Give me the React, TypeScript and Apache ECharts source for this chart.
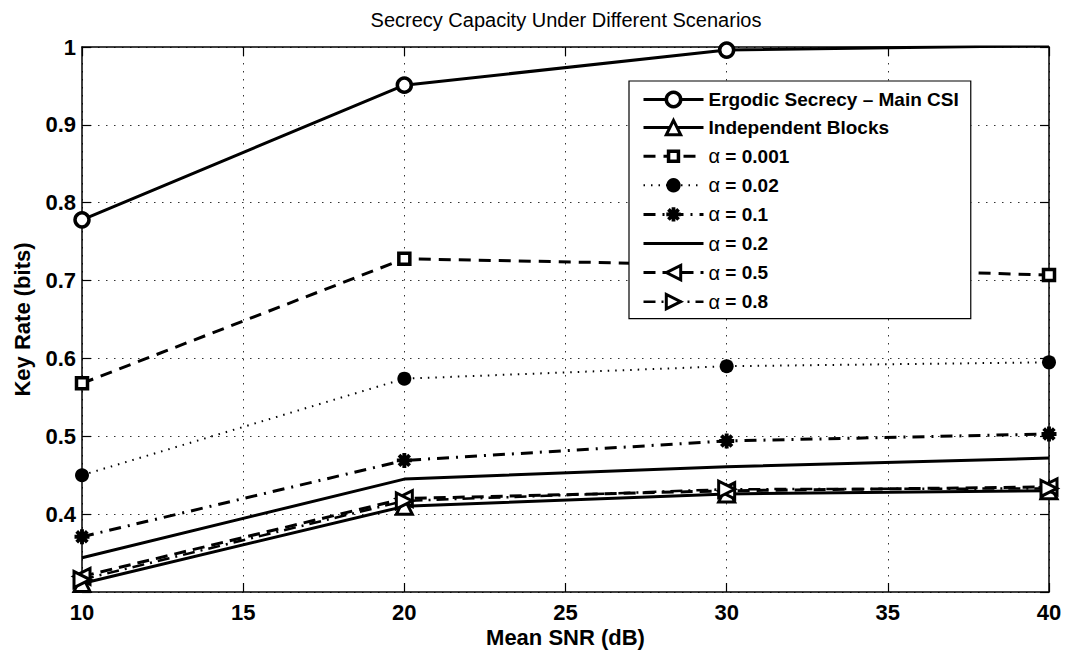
import React, { useEffect, useRef } from "react";
import * as echarts from "echarts";

const snr = [10, 20, 30, 40];
const ergodic = [0.778, 0.951, 0.996, 1.002];
const independent = [0.311, 0.41, 0.426, 0.43];
const alpha0001 = [0.568, 0.728, 0.72, 0.707];
const alpha002 = [0.45, 0.574, 0.59, 0.595];
const alpha01 = [0.371, 0.469, 0.494, 0.503];
const alpha02 = [0.344, 0.445, 0.461, 0.472];
const alpha05 = [0.32, 0.42, 0.43, 0.435];
const alpha08 = [0.316, 0.417, 0.432, 0.433];

const seriesNames = [
  "Ergodic Secrecy \u2013 Main CSI",
  "Independent Blocks",
  "\u03b1 = 0.001",
  "\u03b1 = 0.02",
  "\u03b1 = 0.1",
  "\u03b1 = 0.2",
  "\u03b1 = 0.5",
  "\u03b1 = 0.8",
];

const titleText = "Secrecy Capacity Under Different Scenarios";
const xName = "Mean SNR (dB)";
const yName = "Key Rate (bits)";

const FONT = "'Liberation Sans', Arial, Helvetica, sans-serif";
const ASTERISK =
  "path://M-1.3,-5L1.3,-5L1.3,5L-1.3,5Z M-5,-1.3L5,-1.3L5,1.3L-5,1.3Z M2.62,-4.45L4.45,-2.62L-2.62,4.45L-4.45,2.62Z M-4.45,-2.62L-2.62,-4.45L4.45,2.62L2.62,4.45Z";
const SQUARE = "path://M-8,-8M8,8M-5.5,-5.5L5.5,-5.5L5.5,5.5L-5.5,5.5Z";

function pairs(vals: number[]) {
  return snr.map((x, i) => [x, vals[i]]);
}

export default function App() {
  const ref = useRef<HTMLDivElement>(null);
  useEffect(() => {
    const chart = echarts.init(ref.current!, null, { renderer: "svg" });
    const openItem = { color: "#fff", borderColor: "#000", borderWidth: 3 };
    const base = { type: "line", clip: true, z: 2, zlevel: 0 };
    const option: any = {
      animation: false,
      backgroundColor: "#fff",
      textStyle: { fontFamily: FONT, color: "#000" },
      title: {
        text: titleText,
        left: 566,
        textAlign: "center",
        top: 10,
        padding: 0,
        textStyle: { fontSize: 20, fontWeight: "normal", color: "#000", fontFamily: FONT },
      },
      grid: { left: 82, right: 16, top: 47, bottom: 61, outerBoundsMode: "none", containLabel: false },
      legend: {
        orient: "vertical",
        left: 629,
        top: 81,
        z: 50,
        zlevel: 1,
        backgroundColor: "#fff",
        borderColor: "#000",
        borderWidth: 1.2,
        padding: [9, 12, 7, 13],
        itemWidth: 60,
        itemHeight: 18,
        itemGap: 9.1,
        lineStyle: { width: "inherit" },
        itemStyle: { borderWidth: "inherit" },
        data: seriesNames,
        formatter: (name: string) =>
          name.startsWith("\u03b1") ? `{a|\u03b1}{b|${name.slice(1)}}` : `{b|${name}}`,
        textStyle: {
          fontFamily: FONT,
          color: "#000",
          rich: {
            a: { fontSize: 20, fontWeight: "normal", fontFamily: FONT, color: "#000", lineHeight: 19 },
            b: { fontSize: 19, fontWeight: "bold", fontFamily: FONT, color: "#000", lineHeight: 19 },
          },
        },
      },
      xAxis: [
        {
          type: "value",
          min: 10,
          max: 40,
          interval: 5,
          position: "bottom",
          name: xName,
          nameLocation: "middle",
          nameGap: 34,
          nameMoveOverlap: false,
          nameTextStyle: { fontSize: 22, fontWeight: "bold", color: "#000", fontFamily: FONT },
          axisLine: { lineStyle: { color: "#000", width: 1.5 } },
          axisTick: { inside: true, length: 9, lineStyle: { color: "#000", width: 1.2 } },
          axisLabel: { fontSize: 22, fontWeight: "bold", color: "#000", margin: 9, fontFamily: FONT },
          splitLine: { show: true, lineStyle: { color: "#333", width: 1, type: [1.5, 6.5] } },
        },
        {
          type: "value",
          min: 10,
          max: 40,
          interval: 5,
          position: "top",
          axisLine: { lineStyle: { color: "#000", width: 1.5 } },
          axisTick: { inside: true, length: 9, lineStyle: { color: "#000", width: 1.2 } },
          axisLabel: { show: false },
          splitLine: { show: false },
        },
      ],
      yAxis: [
        {
          type: "value",
          min: 0.3,
          max: 1,
          interval: 0.1,
          position: "left",
          name: yName,
          nameLocation: "middle",
          nameGap: 49,
          nameMoveOverlap: false,
          nameTextStyle: { fontSize: 22, fontWeight: "bold", color: "#000", fontFamily: FONT },
          axisLine: { lineStyle: { color: "#000", width: 1.5 } },
          axisTick: { inside: true, length: 9, lineStyle: { color: "#000", width: 1.2 } },
          axisLabel: {
            fontSize: 22,
            fontWeight: "bold",
            color: "#000",
            margin: 6,
            fontFamily: FONT,
            formatter: (v: number) => (Math.abs(v - 0.3) < 1e-6 ? "" : String(+v.toFixed(1))),
          },
          splitLine: { show: true, lineStyle: { color: "#333", width: 1, type: [1.5, 6.5] } },
        },
        {
          type: "value",
          min: 0.3,
          max: 1,
          interval: 0.1,
          position: "right",
          axisLine: { show: true, lineStyle: { color: "#000", width: 1.5 } },
          axisTick: { show: true, inside: true, length: 9, lineStyle: { color: "#000", width: 1.2 } },
          axisLabel: { show: false },
          splitLine: { show: false },
        },
      ],
      series: [
        {
          ...base,
          name: seriesNames[0],
          data: pairs(ergodic),
          symbol: "circle",
          symbolSize: 14,
          lineStyle: { color: "#000", width: 3 },
          itemStyle: { ...openItem, borderWidth: 3.5 },
        },
        {
          ...base,
          name: seriesNames[1],
          data: pairs(independent),
          symbol: "triangle",
          symbolSize: 16,
          lineStyle: { color: "#000", width: 3 },
          itemStyle: { ...openItem },
        },
        {
          ...base,
          name: seriesNames[2],
          data: pairs(alpha0001),
          symbol: SQUARE,
          symbolSize: 16,
          lineStyle: { color: "#000", width: 3, type: [12, 8] },
          itemStyle: { ...openItem, borderWidth: 3.5 },
        },
        {
          ...base,
          name: seriesNames[3],
          data: pairs(alpha002),
          symbol: "circle",
          symbolSize: 14,
          lineStyle: { color: "#000", width: 2, type: [1.5, 6] },
          itemStyle: { color: "#000", borderWidth: 0 },
        },
        {
          ...base,
          name: seriesNames[4],
          data: pairs(alpha01),
          symbol: ASTERISK,
          symbolSize: 15,
          lineStyle: { color: "#000", width: 3, type: [12, 7, 2, 7] },
          itemStyle: { color: "#000", borderWidth: 0 },
        },
        {
          ...base,
          name: seriesNames[5],
          data: pairs(alpha02),
          symbol: "circle",
          showSymbol: false,
          lineStyle: { color: "#000", width: 3 },
          itemStyle: { color: "rgba(0,0,0,0)", borderWidth: 0 },
        },
        {
          ...base,
          name: seriesNames[6],
          data: pairs(alpha05),
          symbol: "triangle",
          symbolRotate: 90,
          symbolSize: 16,
          lineStyle: { color: "#000", width: 3, type: [12, 7] },
          itemStyle: { ...openItem },
        },
        {
          ...base,
          name: seriesNames[7],
          data: pairs(alpha08),
          symbol: "triangle",
          symbolRotate: -90,
          symbolSize: 16,
          lineStyle: { color: "#000", width: 2.5, type: [12, 6, 2, 6] },
          itemStyle: { ...openItem },
        },
      ],
    };
    chart.setOption(option);
    return () => chart.dispose();
  }, []);
  return (
    <div
      ref={ref}
      style={{ position: "absolute", left: 0, top: 0, width: 1065, height: 653, background: "#fff" }}
    />
  );
}
